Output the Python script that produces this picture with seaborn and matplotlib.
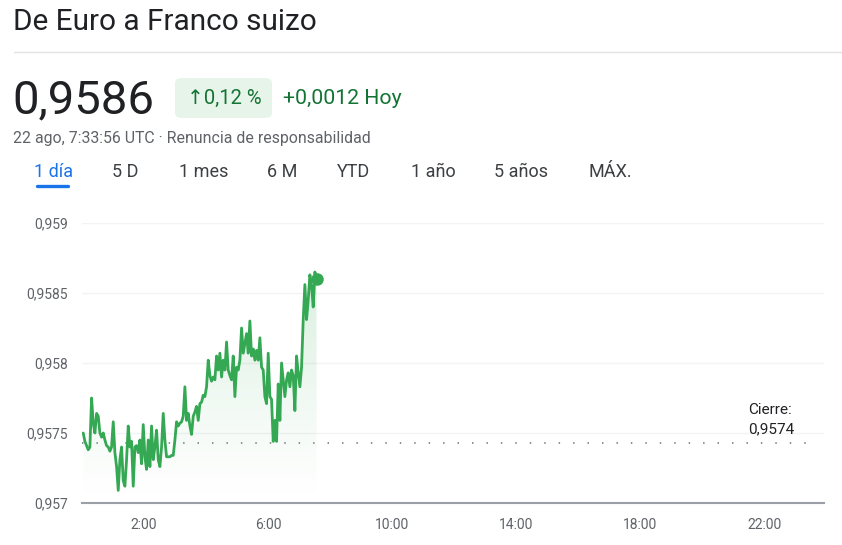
import numpy as np
import pandas as pd
import matplotlib
matplotlib.use("Agg")
import matplotlib.pyplot as plt
from matplotlib.patches import FancyBboxPatch
import seaborn as sns

# ---------------- data ----------------
title = "De Euro a Franco suizo"
price_now = "0,9586"
pct_change = "↑0,12 %"
abs_change = "+0,0012 Hoy"
timestamp = "22 ago, 7:33:56 UTC · Renuncia de responsabilidad"
tabs = ["1 día", "5 D", "1 mes", "6 M", "YTD", "1 año", "5 años", "MÁX."]
close_label = "Cierre:\n0,9574"
close_value = 0.95743
prices = [
    0.95750, 0.95744, 0.95741, 0.95738, 0.95740, 0.95775, 0.95757, 0.95750, 0.95764, 0.95762,
    0.95750, 0.95747, 0.95750, 0.95745, 0.95741, 0.95740, 0.95737, 0.95740, 0.95758, 0.95736,
    0.95726, 0.95709, 0.95731, 0.95740, 0.95716, 0.95712, 0.95731, 0.95755, 0.95740, 0.95744,
    0.95712, 0.95740, 0.95741, 0.95736, 0.95745, 0.95728, 0.95756, 0.95733, 0.95724, 0.95745,
    0.95726, 0.95755, 0.95731, 0.95740, 0.95752, 0.95731, 0.95726, 0.95740, 0.95764, 0.95745,
    0.95733, 0.95733, 0.95733, 0.95734, 0.95734, 0.95745, 0.95758, 0.95755, 0.95757, 0.95758,
    0.95762, 0.95783, 0.95759, 0.95764, 0.95755, 0.95749, 0.95762, 0.95765, 0.95769, 0.95759,
    0.95771, 0.95772, 0.95777, 0.95776, 0.95783, 0.95802, 0.95791, 0.95787, 0.95790, 0.95788,
    0.95805, 0.95795, 0.95807, 0.95790, 0.95802, 0.95795, 0.95815, 0.95795, 0.95791, 0.95788,
    0.95805, 0.95776, 0.95797, 0.95795, 0.95802, 0.95825, 0.95807, 0.95814, 0.95821, 0.95807,
    0.95830, 0.95805, 0.95810, 0.95802, 0.95809, 0.95802, 0.95818, 0.95797, 0.95795, 0.95776,
    0.95771, 0.95807, 0.95776, 0.95774, 0.95744, 0.95759, 0.95744, 0.95785, 0.95759, 0.95800,
    0.95788, 0.95776, 0.95788, 0.95793, 0.95783, 0.95795, 0.95791, 0.95766, 0.95805, 0.95793,
    0.95783, 0.95797, 0.95831, 0.95856, 0.95831, 0.95845, 0.95863, 0.95855, 0.95840, 0.95865,
    0.95860,
]
t_start, t_end = 0.04, 7.566  # hours (0:02 .. 7:33:56)
hours = np.linspace(t_start, t_end, len(prices))
y_ticks = [0.957, 0.9575, 0.958, 0.9585, 0.959]
y_tick_labels = ["0,957", "0,9575", "0,958", "0,9585", "0,959"]
x_ticks = [2, 6, 10, 14, 18, 22]
x_tick_labels = ["2:00", "6:00", "10:00", "14:00", "18:00", "22:00"]

df = pd.DataFrame({"hora": hours, "precio": prices})

# ---------------- style ----------------
sns.set_theme(style="white")
plt.rcParams["font.family"] = ["Roboto", "DejaVu Sans"]

GREEN = "#34a853"
DARK = "#202124"
GRAY = "#5f6368"
W, H = 842, 545
fig = plt.figure(figsize=(W / 100, H / 100), dpi=100)

def fx(px):
    return px / W

def fy(py):
    return 1 - py / H

# header
fig.text(fx(13), fy(22), title, fontsize=21.4, color=DARK, va="center", ha="left")
fig.add_artist(plt.Line2D([fx(14), fx(842)], [fy(52), fy(52)], color="#e3e3e3", lw=1))
fig.text(fx(12), fy(100), price_now, fontsize=34, color=DARK, va="center", ha="left")
pill = FancyBboxPatch((fx(175), fy(118)), fx(97), 40 / H,
                      boxstyle="round,pad=0,rounding_size=0.009",
                      transform=fig.transFigure, facecolor="#e6f4ea", edgecolor="none")
fig.add_artist(pill)
fig.text(fx(224), fy(98), pct_change, fontsize=14.5, color="#137333",
         va="center", ha="center", family=["Roboto", "DejaVu Sans"])
fig.text(fx(283), fy(98), abs_change, fontsize=15.3, color="#137333", va="center", ha="left")
fig.text(fx(13), fy(138), timestamp, fontsize=11.4, color=GRAY, va="center", ha="left")

tab_x = [34, 112, 179, 267, 337, 411, 494, 589]
for i, (lbl, x) in enumerate(zip(tabs, tab_x)):
    fig.text(fx(x), fy(172), lbl, fontsize=13, va="center", ha="left",
             color="#1a73e8" if i == 0 else "#3c4043")
fig.add_artist(plt.Line2D([fx(37), fx(68)], [fy(186), fy(186)], color="#1a73e8",
                          lw=2.4, solid_capstyle="round"))

# chart
ax = fig.add_axes([fx(82), fy(503), fx(824 - 82), (503 - 223) / H])
xmax = (824 - 82) / 31.0
ax.set_xlim(0, xmax)
ax.set_ylim(0.957, 0.959)

# gradient fill under the line
ymin = 0.957
ymax_fill = max(prices)
grad = np.zeros((256, 2, 4))
rgb = matplotlib.colors.to_rgb(GREEN)
grad[..., 0], grad[..., 1], grad[..., 2] = rgb
grad[..., 3] = np.linspace(0.0, 0.25, 256)[:, None] ** 1.2
im = ax.imshow(grad, extent=[hours[0], hours[-1], ymin, ymax_fill], origin="lower",
               aspect="auto", zorder=1, interpolation="bilinear")
poly = ax.fill_between(hours, prices, ymin, color="none", lw=0)
path = poly.get_paths()[0]
im.set_clip_path(path, transform=ax.transData)

sns.lineplot(data=df, x="hora", y="precio", ax=ax, color=GREEN, lw=2.0, zorder=3)
ax.plot([hours[-1]], [prices[-1]], "o", color=GREEN, ms=8, zorder=4)

# previous close dotted line
ax.plot([0, (816 - 82) / 31.0], [close_value, close_value], color="#80868b",
        lw=1.3, linestyle=(0, (0.8, 7.2)), zorder=2)
fig.text(fx(748), fy(410), "Cierre:", fontsize=11, color=DARK, va="center", ha="left")
fig.text(fx(748), fy(429), "0,9574", fontsize=11, color=DARK, va="center", ha="left")

ax.set_yticks(y_ticks)
ax.set_yticklabels(y_tick_labels)
ax.set_xticks(x_ticks)
ax.set_xticklabels(x_tick_labels)
ax.set_xlabel("")
ax.set_ylabel("")
for s in ["top", "right", "left"]:
    ax.spines[s].set_visible(False)
ax.spines["bottom"].set_color("#9aa0a6")
ax.spines["bottom"].set_linewidth(1.5)
ax.grid(axis="y", color="#f1f3f4", lw=1)
ax.grid(axis="x", visible=False)
ax.tick_params(axis="y", length=0, pad=10, labelsize=10, labelcolor="#5f6368")
ax.tick_params(axis="x", length=5, width=1.5, color="#9aa0a6", direction="out",
               pad=6, labelsize=10, labelcolor="#5f6368")
ax.set_facecolor("none")

fig.savefig("out.png", dpi=100)
